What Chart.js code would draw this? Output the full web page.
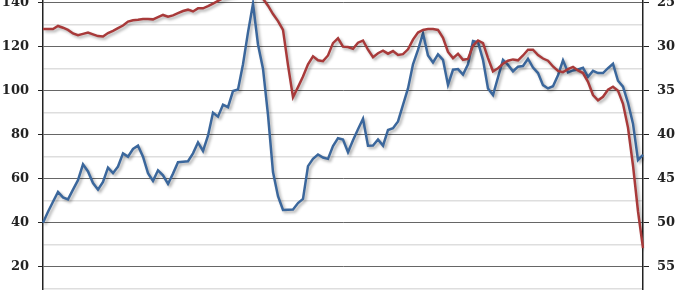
<!DOCTYPE html>
<html lang="en">
<head>
  <meta charset="UTF-8">
  <title>Two series, inverted right axis</title>
  <script src="https://cdn.jsdelivr.net/npm/chart.js@4.4.0/dist/chart.umd.min.js"></script>
  <style>
    html, body { margin: 0; padding: 0; background: #fff; overflow: hidden; }
    canvas { display: block; }
  </style>
</head>
<body>
  <canvas id="myChart" width="680" height="290"></canvas>
  <script type="text/javascript">
    // left axis series (blue)
    const blueValues = [
      40, 45, 49.5, 54, 51.5, 50.6, 55, 59.3, 66.5, 63.3,
      58, 55, 58.5, 65, 62.5, 65.5, 71.5, 70, 73.5, 75,
      70, 62.5, 59, 63.8, 61.5, 57.6, 62.3, 67.5, 67.7, 67.9,
      71.5, 76.5, 72.6, 79.5, 90, 88.2, 93.6, 92.5, 99.8, 100.5,
      112, 126.5, 139.5, 121, 110, 89, 63, 52, 45.8, 45.9,
      46, 48.9, 50.8, 65.7, 69, 71, 69.6, 69, 74.8, 78.4,
      77.8, 72, 77.5, 82.5, 87.2, 75, 75.1, 77.8, 75, 82.1,
      82.9, 86, 93.5, 101, 112, 118.5, 126, 116, 112.8, 116.5,
      114, 102.6, 109.5, 109.8, 107.3, 112, 122.6, 122, 114, 101,
      98, 106, 114, 111.7, 108.8, 110.9, 111.2, 114.5, 110.5, 108,
      102.5, 101, 102, 107, 113.8, 108.3, 109.2, 109.6, 110.4, 106.3,
      109, 108, 108, 110.2, 112.2, 104.5, 101.8, 94.5, 85, 68.5,
      70.8
    ]

    // right axis series (red), plotted on an inverted scale
    const redValues = [
      28, 28, 28, 27.65, 27.85, 28.1, 28.5, 28.7, 28.55, 28.4,
      28.6, 28.8, 28.85, 28.45, 28.2, 27.9, 27.6, 27.15, 27, 26.95,
      26.85, 26.85, 26.9, 26.65, 26.4, 26.6, 26.45, 26.2, 25.95, 25.8,
      26, 25.65, 25.65, 25.4, 25.1, 24.8, 24.5, 24.3, 24.2, 24,
      23.9, 23.8, 23.9, 24.1, 24.55, 25.35, 26.3, 27.1, 28.1, 32.1,
      35.75, 34.6, 33.4, 32, 31.1, 31.55, 31.65, 31, 29.6, 29.05,
      30, 30.05, 30.25, 29.55, 29.3, 30.35, 31.2, 30.75, 30.45, 30.8,
      30.5, 30.95, 30.85, 30.3, 29.2, 28.4, 28.1, 28, 28, 28.1,
      29, 30.6, 31.3, 30.8, 31.5, 31.4, 29.9, 29.3, 29.6, 31.3,
      32.8, 32.45, 31.95, 31.6, 31.45, 31.55, 31, 30.35, 30.35, 30.95,
      31.35, 31.6, 32.25, 32.75, 32.9, 32.55, 32.3, 32.7, 33, 34,
      35.5, 36.1, 35.7, 34.9, 34.55, 35, 36.5, 39.2, 43.5, 48.7,
      52.9
    ]

    const leftTicks = [10, 20, 30, 40, 50, 60, 70, 80, 90, 100, 110, 120, 130, 140]
    const rightTicks = [25, 30, 35, 40, 45, 50, 55]

    // quarterly categories (axis is hidden in the picture)
    let quarters = []
    for (let i = 0; i < blueValues.length; i++) {
      quarters.push((1990 + Math.floor(i / 4)) + ' Q' + (i % 4 + 1))
    }

    // visible window of the left axis; right axis is tied to it (140 <-> 25, 20 <-> 55)
    const leftMin = 9.4
    const leftMax = 141.2
    const toRight = v => 25 + (140 - v) / 4

    const labelFont = { family: 'DejaVu Serif', weight: 'bold', size: 13 }

    const lineShadow = {
      id: 'lineShadow',
      beforeDatasetDraw(chart) {
        const ctx = chart.ctx
        ctx.save()
        ctx.shadowColor = 'rgba(0,0,0,0.32)'
        ctx.shadowBlur = 3
        ctx.shadowOffsetX = 2
        ctx.shadowOffsetY = 2
      },
      afterDatasetDraw(chart) {
        chart.ctx.restore()
      }
    }

    let ctx = document.getElementById('myChart').getContext('2d')
    let myChart = new Chart(ctx, {
      type: 'line',
      data: {
        labels: quarters,
        datasets: [{
          label: 'Red series',
          data: redValues,
          yAxisID: 'y2',
          borderColor: '#a83a3a',
          borderWidth: 2.5,
          pointRadius: 0,
          tension: 0
        }, {
          label: 'Blue series',
          data: blueValues,
          yAxisID: 'y',
          borderColor: '#3b679c',
          borderWidth: 2.5,
          pointRadius: 0,
          tension: 0
        }]
      },
      options: {
        responsive: false,
        animation: false,
        devicePixelRatio: 1,
        layout: { padding: 0 },
        plugins: {
          legend: { display: false },
          tooltip: { enabled: false }
        },
        scales: {
          x: { display: false, offset: false },
          y: {
            position: 'left',
            min: leftMin,
            max: leftMax,
            afterBuildTicks: scale => {
              scale.ticks = leftTicks.map(v => ({ value: v }))
            },
            afterFit: scale => {
              scale.width = 43
              scale.paddingTop = 0
              scale.paddingBottom = 0
            },
            ticks: {
              font: labelFont,
              color: '#222',
              padding: 9,
              callback: v => (v % 20 === 0 && v >= 20) ? v : ''
            },
            grid: {
              color: c => (c.tick && c.tick.value % 20 === 0) ? '#666' : '#dedede',
              lineWidth: c => (c.tick && c.tick.value % 20 === 0) ? 1 : 1.5,
              tickLength: 5,
              tickColor: c => (c.tick && c.tick.value % 20 === 0 && c.tick.value >= 20) ? '#222' : 'rgba(0,0,0,0)'
            },
            border: { color: '#222', width: 1.5 }
          },
          y2: {
            position: 'right',
            reverse: true,
            min: toRight(leftMax),
            max: toRight(leftMin),
            afterBuildTicks: scale => {
              scale.ticks = rightTicks.map(v => ({ value: v }))
            },
            afterFit: scale => {
              scale.width = 37
              scale.paddingTop = 0
              scale.paddingBottom = 0
            },
            ticks: {
              font: labelFont,
              color: '#222',
              padding: 8
            },
            grid: {
              drawOnChartArea: false,
              tickLength: 6,
              color: '#222'
            },
            border: { color: '#222', width: 1.5 }
          }
        }
      },
      plugins: [lineShadow]
    })
  </script>
</body>
</html>
